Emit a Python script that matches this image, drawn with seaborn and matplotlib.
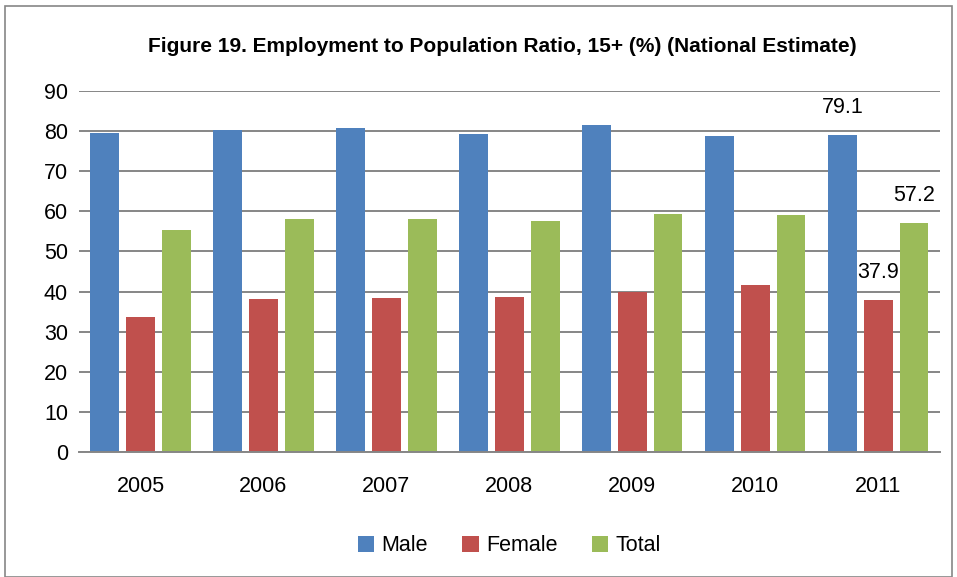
import matplotlib
matplotlib.use("Agg")
import matplotlib.pyplot as plt
import seaborn as sns
import pandas as pd
from matplotlib.patches import Rectangle

years = ["2005", "2006", "2007", "2008", "2009", "2010", "2011"]
male = [79.5, 80.3, 80.6, 79.3, 81.5, 78.8, 79.1]
female = [33.7, 38.1, 38.4, 38.7, 40.0, 41.7, 37.9]
total = [55.3, 58.1, 58.0, 57.7, 59.3, 59.2, 57.2]
series = ["Male", "Female", "Total"]
colors = ["#4F81BD", "#C0504D", "#9BBB59"]

df = pd.DataFrame({
    "Year": years * 3,
    "Value": male + female + total,
    "Series": [s for s in series for _ in years],
})

sns.set_theme(style="white")
plt.rcParams["font.family"] = ["Liberation Sans", "DejaVu Sans"]
plt.rcParams["text.color"] = "black"

FS = 15.5
fig = plt.figure(figsize=(9.57, 5.77), dpi=100)
ax = fig.add_axes([0.0826, 0.2158, 0.8994, 0.627])

sns.barplot(data=df, x="Year", y="Value", hue="Series", palette=colors,
            width=0.87, gap=0.19, ax=ax, edgecolor="none", saturation=1)

ax.set_ylim(0, 90)
ax.set_yticks(range(0, 91, 10))
ax.set_xlim(-0.5, len(years) - 0.5)
ax.yaxis.grid(True, color="#868686", linewidth=1.4)
ax.set_axisbelow(True)
for s in ["top", "right", "left"]:
    ax.spines[s].set_visible(False)
ax.spines["bottom"].set_color("#868686")
ax.spines["bottom"].set_linewidth(1.4)
ax.tick_params(axis="both", length=0, labelsize=FS, colors="black")
ax.tick_params(axis="x", pad=17)
ax.tick_params(axis="y", pad=8)
ax.set_xlabel("")
ax.set_ylabel("")

# data labels for the last year
last = len(years) - 1
step = 0.87 / 3
for i, vals in enumerate([male, female, total]):
    xpos = last + (i - 1) * step
    ax.text(xpos, vals[last] + 6.8, f"{vals[last]:.1f}",
            ha="center", va="center", fontsize=FS, color="black")

leg = ax.legend(loc="upper center", bbox_to_anchor=(0.5, -0.175), ncol=3,
                frameon=False, fontsize=FS, handlelength=0.75, handleheight=0.75,
                handletextpad=0.35, columnspacing=1.6)
for t in leg.get_texts():
    t.set_color("black")

fig.text(0.525, 1 - 46 / 577, "Figure 19. Employment to Population Ratio, 15+ (%) (National Estimate)",
         ha="center", va="center", fontsize=15, fontweight="bold", color="black")

fig.patches.append(Rectangle((5 / 957, 0), 1 - 10 / 957, 1 - 6 / 577, transform=fig.transFigure,
                             fill=False, edgecolor="#868686", linewidth=1.2))

fig.savefig("out.png", dpi=100)
